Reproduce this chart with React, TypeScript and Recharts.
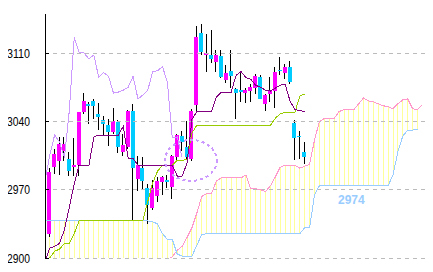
import React from 'react';
import { ComposedChart, Bar, Line, XAxis, YAxis, ReferenceLine, ReferenceDot } from 'recharts';

// candles start at index -1 (clipped at the left edge), cloud runs 24 slots further
const FIRST = -1;
const LAST = 76;
const CHIKOU_SHIFT = 25;

const opens = [
  2932, 2925, 2993, 2999, 3010, 3001, 2993, 2995, 3050, 3058, 3061, 3048, 3041, 3036, 3029, 3039,
  3009, 3014, 3051, 2981, 2992, 2972, 2951, 2964, 2978, 2980, 2973, 3003, 3025, 3014, 3001, 3057,
  3131, 3108, 3108, 3101, 3107, 3082, 3092, 3073, 3072, 3069, 3071, 3074, 3085, 3058, 3068, 3071,
  3093, 3090, 3096, 3038, 3025, 3009,
];
const highs = [
  2934, 2992, 3012, 3024, 3024, 3009, 3023, 3050, 3069, 3060, 3063, 3059, 3045, 3042, 3054, 3041,
  3027, 3052, 3058, 3004, 3003, 2976, 2980, 2983, 2984, 2985, 3006, 3027, 3030, 3040, 3053, 3138,
  3140, 3130, 3134, 3113, 3113, 3098, 3113, 3074, 3090, 3074, 3078, 3089, 3088, 3068, 3085, 3096,
  3106, 3099, 3102, 3041, 3030, 3019,
];
const lows = [
  2931, 2922, 2986, 2985, 2999, 2984, 2984, 2984, 3048, 3037, 3042, 3031, 3025, 3015, 3027, 3008,
  3004, 3012, 2939, 2969, 2971, 2935, 2949, 2957, 2965, 2972, 2960, 3000, 3010, 3000, 2999, 3050,
  3108, 3091, 3100, 3091, 3084, 3079, 3074, 3042, 3060, 3059, 3060, 3068, 3063, 3051, 3060, 3054,
  3087, 3083, 3078, 3000, 3001, 2996,
];
const closes = [
  2934, 2988, 3007, 3017, 3017, 2989, 2995, 3050, 3061, 3056, 3056, 3044, 3037, 3029, 3040, 3014,
  3016, 3051, 2992, 2995, 2979, 2954, 2972, 2979, 2983, 2978, 3005, 3026, 3019, 3003, 3051, 3126,
  3111, 3110, 3104, 3108, 3085, 3090, 3086, 3069, 3070, 3072, 3075, 3086, 3063, 3067, 3072, 3091,
  3092, 3096, 3080, 3023, 3024, 3003,
];

// conversion line (purple) and base line (yellow-green)
const tenkan = [
  2896, 2910, 2912, 2915, 2929, 2952, 2976, 2995, 2995, 2995, 3024, 3026, 3026, 3026, 3026, 3026,
  3035, 3002, 3002, 2995, 2995, 2995, 2995, 2995, 2995, 2995, 2995, 2984, 2984, 2997, 3042, 3050,
  3050, 3050, 3050, 3065, 3070, 3070, 3070, 3087, 3091, 3085, 3083, 3077, 3075, 3072, 3071, 3074,
  3077, 3078, 3061, 3052, 3051, 3050,
];
const kijun = [
  2895, 2900, 2907, 2909, 2915, 2915, 2925, 2938, 2938, 2938, 2938, 2938, 2938, 2938, 2938, 2938,
  2938, 2938, 2938, 2938, 2938, 2958, 2977, 2989, 2995, 2995, 2995, 3000, 3000, 3001, 3028, 3036,
  3036, 3036, 3036, 3036, 3036, 3036, 3036, 3036, 3036, 3036, 3036, 3036, 3036, 3036, 3036, 3043,
  3048, 3049, 3049, 3049, 3066, 3068,
];

// leading spans A (pink) and B (blue)
const spanA = [
  2868, 2871, 2871, 2874, 2879, 2879, 2882, 2885, 2885, 2887, 2887, 2889, 2891, 2891, 2890, 2890,
  2892, 2893, 2893, 2894, 2895, 2895, 2896, 2897, 2898, 2899, 2901, 2908, 2912, 2921, 2931, 2946,
  2963, 2966, 2966, 2979, 2982, 2982, 2982, 2982, 2982, 2985, 2971, 2971, 2970, 2968, 2974, 2983,
  2993, 2995, 2995, 2995, 2992, 2994, 2996, 3021, 3040, 3043, 3043, 3043, 3050, 3052, 3052, 3052,
  3058, 3064, 3061, 3060, 3058, 3056, 3055, 3053, 3058, 3062, 3063, 3053, 3052, 3057,
];
const spanB = [
  2938, 2938, 2938, 2938, 2938, 2938, 2938, 2938, 2938, 2938, 2938, 2938, 2938, 2938, 2938, 2938,
  2938, 2938, 2938, 2938, 2938, 2938, 2937, 2935, 2925, 2919, 2919, 2904, 2902, 2902, 2902, 2913,
  2924, 2925, 2925, 2925, 2925, 2925, 2925, 2925, 2925, 2925, 2925, 2925, 2925, 2925, 2925, 2925,
  2925, 2925, 2925, 2925, 2925, 2931, 2931, 2965, 2974, 2974, 2974, 2974, 2974, 2974, 2974, 2974,
  2974, 2974, 2974, 2974, 2974, 2974, 2974, 2985, 3009, 3025, 3031, 3031, 3032,
];

const yTicks = [2900, 2970, 3040, 3110];
const spanBLabel = 2974;

const rows = [];
for (let i = FIRST; i <= LAST; i++) {
  const k = i - FIRST;
  const a = spanA[k];
  const b = spanB[k];
  const hasCandle = k < opens.length;
  rows.push({
    i,
    hl: hasCandle ? [lows[k], highs[k]] : undefined,
    o: hasCandle ? opens[k] : undefined,
    h: hasCandle ? highs[k] : undefined,
    l: hasCandle ? lows[k] : undefined,
    c: hasCandle ? closes[k] : undefined,
    tenkan: tenkan[k],
    kijun: kijun[k],
    chikou: closes[k + CHIKOU_SHIFT],
    a,
    b,
    cloud: [Math.min(a, b), Math.max(a, b)],
  });
}

const AXIS_X = 45;
const X_DOMAIN = [-0.96, 76.73];

const YTick = (props: any) => {
  const { y, payload } = props;
  return (
    <g>
      <line x1={AXIS_X} x2={AXIS_X + 4} y1={y} y2={y} stroke="#000" />
      <text
        x={AXIS_X - 15}
        y={y}
        dy={4.5}
        textAnchor="end"
        fontSize={12.5}
        fontFamily="'Liberation Sans', sans-serif"
        textLength={23}
        lengthAdjust="spacingAndGlyphs"
        fill="#000"
      >
        {payload.value}
      </text>
    </g>
  );
};

const Candle = (props: any) => {
  const { x, y, width, height, payload } = props;
  if (!payload || payload.o == null) return null;
  const { o, c, h, l } = payload;
  const top = Math.min(y, y + height);
  const span = Math.abs(height);
  const k = span / (h - l || 1);
  const yOf = (v: number) => top + (h - v) * k;
  const cx = x + width / 2;
  const bodyTop = yOf(Math.max(o, c));
  const bodyH = Math.max(1, Math.abs(o - c) * k);
  return (
    <g>
      <line x1={cx} x2={cx} y1={top} y2={top + span} stroke="#000" />
      <rect x={x} y={bodyTop} width={width} height={bodyH} fill={c >= o ? '#ff00ff' : '#00ccff'} />
    </g>
  );
};

export default function App() {
  return (
    <div style={{ margin: '-8px 0 0 -8px' }}>
      <ComposedChart
        width={433}
        height={272}
        data={rows}
        margin={{ top: 14, right: 7, bottom: 14, left: 0 }}
        style={{ shapeRendering: 'crispEdges' }}
      >
        <XAxis type="number" dataKey="i" domain={X_DOMAIN} hide allowDataOverflow />
        <XAxis xAxisId="cloud" type="number" dataKey="i" domain={X_DOMAIN} hide allowDataOverflow />
        <YAxis
          domain={[2900, 3150]}
          ticks={yTicks}
          width={45}
          allowDataOverflow
          axisLine={{ stroke: '#000' }}
          tickLine={false}
          tick={<YTick />}
        />
        <Bar xAxisId="cloud" dataKey="cloud" barSize={1} fill="#ffff99" isAnimationActive={false} />
        {yTicks.map((t) => (
          <ReferenceLine key={t} y={t} stroke="#bbbbbb" strokeDasharray="4 4" />
        ))}
        <Line dataKey="a" stroke="#ff99cc" dot={false} strokeWidth={1} isAnimationActive={false} />
        <Line dataKey="b" stroke="#99ccff" dot={false} strokeWidth={1} isAnimationActive={false} />
        <Line dataKey="chikou" stroke="#cc99ff" dot={false} strokeWidth={1} isAnimationActive={false} />
        <Line dataKey="kijun" stroke="#99cc00" dot={false} strokeWidth={1} isAnimationActive={false} />
        <Line dataKey="tenkan" stroke="#800080" dot={false} strokeWidth={1} isAnimationActive={false} />
        <Bar dataKey="hl" barSize={4} shape={<Candle />} isAnimationActive={false} />
        <ReferenceDot
          x={28.8}
          y={3000}
          shape={(p: any) => (
            <ellipse cx={p.cx} cy={p.cy} rx={26} ry={20.5} fill="none" stroke="#cc99ff" strokeWidth={2} strokeDasharray="3 3" />
          )}
        />
        <ReferenceDot
          x={61.5}
          y={spanBLabel}
          shape={(p: any) => (
            <text x={p.cx} y={p.cy + 18} textAnchor="middle" fontSize={12} fontWeight="bold" fontFamily="'Liberation Sans', sans-serif" fill="#99ccff">
              {spanBLabel}
            </text>
          )}
        />
      </ComposedChart>
    </div>
  );
}
